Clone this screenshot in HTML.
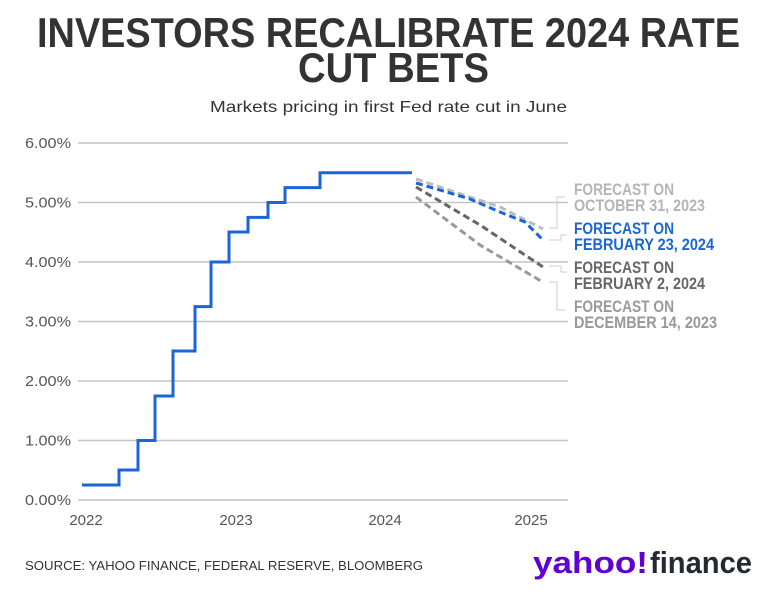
<!DOCTYPE html>
<html><head><meta charset="utf-8"><style>
html,body{margin:0;padding:0;background:#fff;}
svg{display:block;}
</style></head><body>
<svg width="772" height="604" viewBox="0 0 772 604" xmlns="http://www.w3.org/2000/svg">
<rect width="772" height="604" fill="#fff"/>
<g font-family="'Liberation Sans Narrow','Liberation Sans',sans-serif" font-weight="bold" fill="#333" font-size="42">
<text x="37" y="47" textLength="703" lengthAdjust="spacingAndGlyphs">INVESTORS RECALIBRATE 2024 RATE</text>
<text x="298" y="82" textLength="191" lengthAdjust="spacingAndGlyphs">CUT BETS</text>
</g>
<text x="210" y="112" font-family="'Liberation Sans Narrow','Liberation Sans',sans-serif" font-size="16" fill="#333" textLength="357" lengthAdjust="spacingAndGlyphs">Markets pricing in first Fed rate cut in June</text>

<g stroke="#c4c4c4" stroke-width="1.5">
<line x1="78" y1="143" x2="568" y2="143"/>
<line x1="78" y1="202.5" x2="568" y2="202.5"/>
<line x1="78" y1="262" x2="568" y2="262"/>
<line x1="78" y1="321.5" x2="568" y2="321.5"/>
<line x1="78" y1="381" x2="568" y2="381"/>
<line x1="78" y1="440.5" x2="568" y2="440.5"/>
<line x1="78" y1="500" x2="568" y2="500"/>
</g>
<g font-family="'Liberation Sans Narrow','Liberation Sans',sans-serif" font-size="15" fill="#555" text-anchor="end">
<text x="71" y="148" textLength="46" lengthAdjust="spacingAndGlyphs">6.00%</text>
<text x="71" y="207.5" textLength="46" lengthAdjust="spacingAndGlyphs">5.00%</text>
<text x="71" y="267" textLength="46" lengthAdjust="spacingAndGlyphs">4.00%</text>
<text x="71" y="326.5" textLength="46" lengthAdjust="spacingAndGlyphs">3.00%</text>
<text x="71" y="386" textLength="46" lengthAdjust="spacingAndGlyphs">2.00%</text>
<text x="71" y="445.5" textLength="46" lengthAdjust="spacingAndGlyphs">1.00%</text>
<text x="71" y="505" textLength="46" lengthAdjust="spacingAndGlyphs">0.00%</text>
</g>
<g font-family="'Liberation Sans Narrow','Liberation Sans',sans-serif" font-size="15" fill="#555" text-anchor="middle">
<text x="86" y="525">2022</text>
<text x="236" y="525">2023</text>
<text x="385" y="525">2024</text>
<text x="531" y="525">2025</text>
</g>

<polyline fill="none" stroke="#1a66d6" stroke-width="3" points="82,485 119,485 119,470 138,470 138,440.5 155,440.5 155,396 173,396 173,351 195,351 195,306.6 211,306.6 211,262 229,262 229,232 248,232 248,217.4 268,217.4 268,202.5 285,202.5 285,187.6 320,187.6 320,172.8 412,172.8"/>

<g fill="none" stroke-width="3" stroke-dasharray="7,4">
<path d="M416,179 L470,197 L500,207 L543,229" stroke="#bdbdbd"/>
<path d="M416,183 L470,199 L500,212 L525,222 L543,240" stroke="#1a66d6"/>
<path d="M416,187 L480,225 L543,267" stroke="#666"/>
<path d="M416,197 L480,245 L541,281" stroke="#999"/>
</g>
<g fill="none" stroke-width="1" >
<path d="M549,228 L557,228 L557,197 L565,197" stroke="#ccc"/>
<path d="M549,240 L561,240 L561,235 L567,235" stroke="#ccc"/>
<path d="M549,266 L561,266 L561,272 L567,272" stroke="#ccc"/>
<path d="M549,282 L557,282 L557,310 L565,310" stroke="#ccc"/>
</g>
<g font-family="'Liberation Sans Narrow','Liberation Sans',sans-serif" font-weight="bold" font-size="17">
<text x="574" y="195" fill="#b5b5b5" textLength="100" lengthAdjust="spacingAndGlyphs">FORECAST ON</text>
<text x="574" y="211" fill="#b5b5b5" textLength="131" lengthAdjust="spacingAndGlyphs">OCTOBER 31, 2023</text>
<text x="574" y="234" fill="#1a66d6" textLength="100" lengthAdjust="spacingAndGlyphs">FORECAST ON</text>
<text x="574" y="250" fill="#1a66d6" textLength="140" lengthAdjust="spacingAndGlyphs">FEBRUARY 23, 2024</text>
<text x="574" y="273" fill="#666" textLength="100" lengthAdjust="spacingAndGlyphs">FORECAST ON</text>
<text x="574" y="289" fill="#666" textLength="131" lengthAdjust="spacingAndGlyphs">FEBRUARY 2, 2024</text>
<text x="574" y="312" fill="#999" textLength="100" lengthAdjust="spacingAndGlyphs">FORECAST ON</text>
<text x="574" y="328" fill="#999" textLength="143" lengthAdjust="spacingAndGlyphs">DECEMBER 14, 2023</text>
</g>

<text x="25" y="570" font-family="'Liberation Sans',sans-serif" font-size="13" fill="#333" textLength="398" lengthAdjust="spacingAndGlyphs">SOURCE: YAHOO FINANCE, FEDERAL RESERVE, BLOOMBERG</text>
<g font-family="'Liberation Sans',sans-serif" font-weight="bold" font-size="31">
<text x="533" y="573" fill="#6001d2" textLength="115" lengthAdjust="spacingAndGlyphs">yahoo!</text>
<text x="650" y="573" fill="#232a31" textLength="102" lengthAdjust="spacingAndGlyphs">finance</text>
</g>
</svg>
</body></html>
